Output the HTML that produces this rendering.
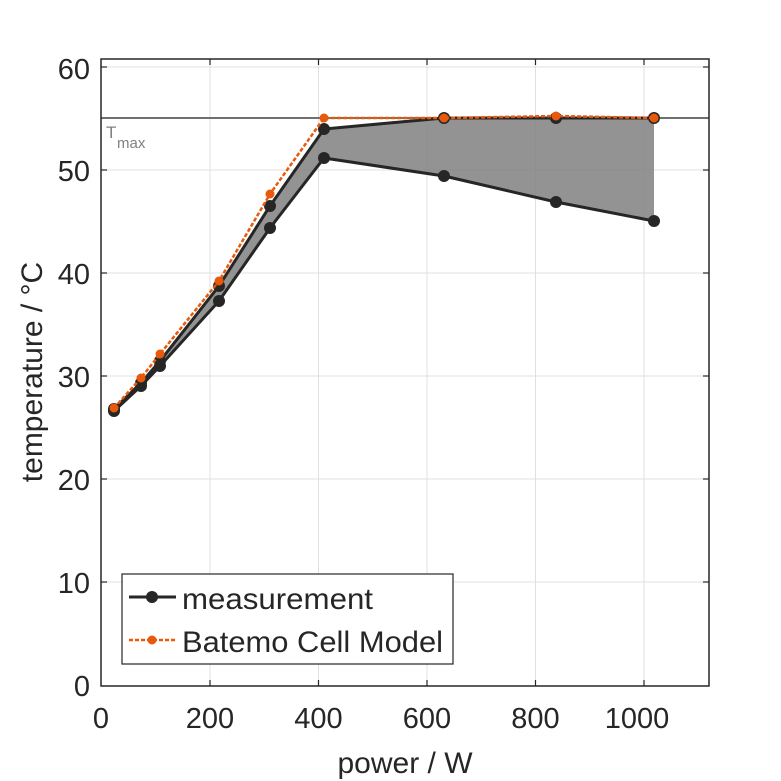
<!DOCTYPE html>
<html><head><style>body{margin:0;background:#fff}svg{display:block}text{font-family:"Liberation Sans",sans-serif;fill:#262626}</style></head><body>
<svg width="781" height="781" viewBox="0 0 781 781">
<rect width="781" height="781" fill="#fff"/>
<g stroke="#e0e0e0" stroke-width="1">
<line x1="210" y1="59" x2="210" y2="686"/><line x1="318.5" y1="59" x2="318.5" y2="686"/><line x1="427" y1="59" x2="427" y2="686"/><line x1="535.5" y1="59" x2="535.5" y2="686"/><line x1="644" y1="59" x2="644" y2="686"/>
<line x1="101" y1="582" x2="709" y2="582"/><line x1="101" y1="479" x2="709" y2="479"/><line x1="101" y1="376" x2="709" y2="376"/><line x1="101" y1="273" x2="709" y2="273"/><line x1="101" y1="170" x2="709" y2="170"/><line x1="101" y1="67" x2="709" y2="67"/>
</g>
<polygon fill="#808080" fill-opacity="0.85" points="114,409 141,383 160,361 219,286 270,206 324,129 444,118 556,118 654,118 654,221 556,202 444,176 324,158 270,228 219,301 160,366 141,386 114,411"/>
<line x1="101" y1="118" x2="709" y2="118" stroke="#707070" stroke-width="2"/>
<text x="106" y="138" font-size="17" style="fill:#808080">T</text><text x="117" y="148" font-size="15" style="fill:#808080">max</text>
<g stroke="#262626" stroke-width="3" fill="none"><polyline points="114,409 141,383 160,361 219,286 270,206 324,129 444,118 556,118 654,118"/><polyline points="114,411 141,386 160,366 219,301 270,228 324,158 444,176 556,202 654,221"/></g>
<g fill="#262626"><circle cx="114" cy="409" r="6"/><circle cx="141" cy="383" r="6"/><circle cx="160" cy="361" r="6"/><circle cx="219" cy="286" r="6"/><circle cx="270" cy="206" r="6"/><circle cx="324" cy="129" r="6"/><circle cx="444" cy="118" r="6"/><circle cx="556" cy="118" r="6"/><circle cx="654" cy="118" r="6"/>
<circle cx="114" cy="411" r="6"/><circle cx="141" cy="386" r="6"/><circle cx="160" cy="366" r="6"/><circle cx="219" cy="301" r="6"/><circle cx="270" cy="228" r="6"/><circle cx="324" cy="158" r="6"/><circle cx="444" cy="176" r="6"/><circle cx="556" cy="202" r="6"/><circle cx="654" cy="221" r="6"/></g>
<polyline points="114,408 141,378 160,354 219,281 270,194 324,118 444,118 556,116 654,118" stroke="#e8590c" stroke-width="2.5" stroke-dasharray="4,2" fill="none"/>
<g fill="#e8590c"><circle cx="114" cy="408" r="4.5"/><circle cx="141" cy="378" r="4.5"/><circle cx="160" cy="354" r="4.5"/><circle cx="219" cy="281" r="4.5"/><circle cx="270" cy="194" r="4.5"/><circle cx="324" cy="118" r="4.5"/><circle cx="444" cy="118" r="4.5"/><circle cx="556" cy="116" r="4.5"/><circle cx="654" cy="118" r="4.5"/></g>
<rect x="101" y="59" width="608" height="627" fill="none" stroke="#262626" stroke-width="1.5"/>
<g stroke="#262626" stroke-width="1.2">
<line x1="210" y1="686" x2="210" y2="680"/><line x1="318.5" y1="686" x2="318.5" y2="680"/><line x1="427" y1="686" x2="427" y2="680"/><line x1="535.5" y1="686" x2="535.5" y2="680"/><line x1="644" y1="686" x2="644" y2="680"/>
<line x1="210" y1="59" x2="210" y2="65"/><line x1="318.5" y1="59" x2="318.5" y2="65"/><line x1="427" y1="59" x2="427" y2="65"/><line x1="535.5" y1="59" x2="535.5" y2="65"/><line x1="644" y1="59" x2="644" y2="65"/>
<line x1="101" y1="582" x2="107" y2="582"/><line x1="101" y1="479" x2="107" y2="479"/><line x1="101" y1="376" x2="107" y2="376"/><line x1="101" y1="273" x2="107" y2="273"/><line x1="101" y1="170" x2="107" y2="170"/><line x1="101" y1="67" x2="107" y2="67"/>
<line x1="709" y1="582" x2="703" y2="582"/><line x1="709" y1="479" x2="703" y2="479"/><line x1="709" y1="376" x2="703" y2="376"/><line x1="709" y1="273" x2="703" y2="273"/><line x1="709" y1="170" x2="703" y2="170"/><line x1="709" y1="67" x2="703" y2="67"/>
</g>
<g font-size="29" text-anchor="middle"><text x="101" y="728">0</text><text x="210" y="728">200</text><text x="318.5" y="728">400</text><text x="427" y="728">600</text><text x="535.5" y="728">800</text><text x="637" y="728">1000</text></g>
<g font-size="29" text-anchor="end"><text x="90" y="696">0</text><text x="90" y="593">10</text><text x="90" y="490">20</text><text x="90" y="387">30</text><text x="90" y="284">40</text><text x="90" y="181">50</text><text x="90" y="79">60</text></g>
<text x="405" y="773" font-size="30" text-anchor="middle">power / W</text>
<text transform="translate(42,372) rotate(-90)" font-size="30" text-anchor="middle">temperature / °C</text>
<rect x="122" y="574" width="331" height="90" fill="#fff" stroke="#262626" stroke-width="1.2"/>
<line x1="129" y1="597" x2="176" y2="597" stroke="#262626" stroke-width="3"/><circle cx="152" cy="597" r="6" fill="#262626"/>
<line x1="129" y1="640" x2="176" y2="640" stroke="#e8590c" stroke-width="2.5" stroke-dasharray="4,2"/><circle cx="152" cy="640" r="4.5" fill="#e8590c"/>
<text x="182" y="609" font-size="30" textLength="191" lengthAdjust="spacingAndGlyphs">measurement</text>
<text x="182" y="652" font-size="30" textLength="261" lengthAdjust="spacingAndGlyphs">Batemo Cell Model</text>
</svg>
</body></html>
